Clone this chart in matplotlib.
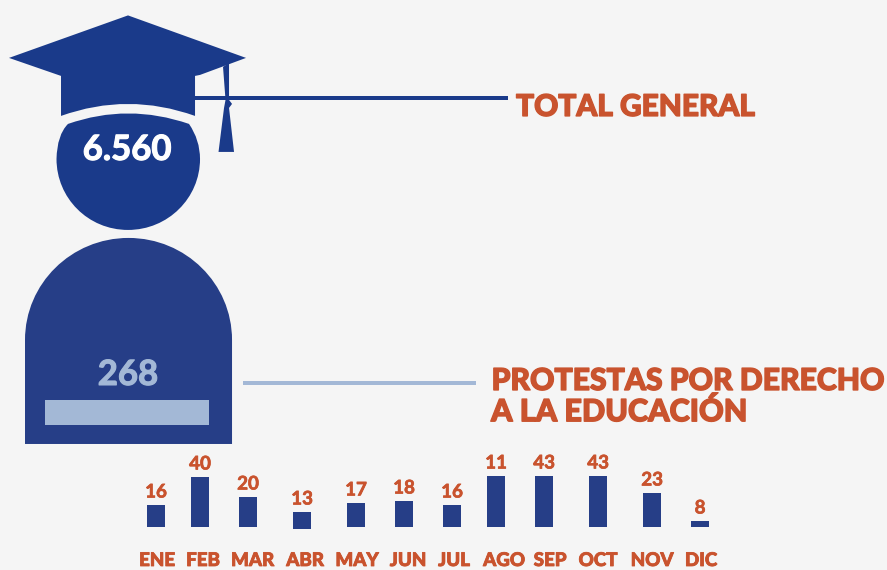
import numpy as np
import matplotlib
matplotlib.use('Agg')
import matplotlib.pyplot as plt
import matplotlib.patches as patches
import matplotlib.patheffects as pe
from matplotlib.path import Path

# chart values
months = ['ENE', 'FEB', 'MAR', 'ABR', 'MAY', 'JUN', 'JUL', 'AGO', 'SEP', 'OCT', 'NOV', 'DIC']
month_labels = ['16', '40', '20', '13', '17', '18', '16', '11', '43', '43', '23', '8']
# bar heights as drawn in the picture, they do not follow the labels exactly
bar_heights = [22, 50, 30, 17, 24, 26, 22, 51, 51, 51, 34, 6]
total_general = '6.560'
total_derecho = '268'

# pixel places of the bars and the labels
bar_x = [156, 200, 248, 302, 356, 404, 452, 496, 544, 598, 652, 700]
bar_base = [527, 527, 527, 529, 527, 527, 527, 527, 527, 527, 527, 527]
month_x = [157, 203, 252.5, 305, 357, 408, 454, 504, 550, 598, 652, 701]

bg = '#f5f5f5'
blue_head = '#1a3a8a'
blue_body = '#263e87'
light = '#a3b8d6'
orange = '#c9532e'

plt.rcParams['font.family'] = ['Lato', 'DejaVu Sans']

fig = plt.figure(figsize=(8.871, 5.701), dpi=100, facecolor=bg)
ax = fig.add_axes([0, 0, 1, 1])
ax.set_xlim(0, 887)
ax.set_ylim(570, 0)
ax.axis('off')

# hat
hat = [(Path.MOVETO, (128, 15.5)), (Path.LINETO, (246, 58)), (Path.LINETO, (200, 75)),
       (Path.LINETO, (195, 76)), (Path.LINETO, (195, 116)),
       (Path.CURVE3, (128, 92)), (Path.CURVE3, (61, 116)),
       (Path.LINETO, (61, 76)), (Path.LINETO, (9, 58)), (Path.CLOSEPOLY, (128, 15.5))]
codes, verts = zip(*hat)
ax.add_patch(patches.PathPatch(Path(verts, codes), fc=blue_head, ec='none'))

# tassel
tassel = [(223, 67), (229, 63), (229, 100), (232, 104), (229, 108), (234, 152), (218.5, 152), (224, 108), (225.5, 100)]
ax.add_patch(patches.Polygon(tassel, closed=True, fc=blue_head, ec='none'))

# head: circle cut by the arc below the hat
head = [(Path.MOVETO, (68, 124)), (Path.CURVE3, (128, 103)), (Path.CURVE3, (189, 124)),
        (Path.CURVE3, (200, 140)), (Path.CURVE3, (200, 159)),
        (Path.CURVE4, (200, 198)), (Path.CURVE4, (168, 230)), (Path.CURVE4, (128, 230)),
        (Path.CURVE4, (88, 230)), (Path.CURVE4, (56.5, 198)), (Path.CURVE4, (56.5, 159)),
        (Path.CURVE3, (57, 135)), (Path.CURVE3, (68, 124)), (Path.CLOSEPOLY, (68, 124))]
codes, verts = zip(*head)
ax.add_patch(patches.PathPatch(Path(verts, codes), fc=blue_head, ec='none'))

# body
k = 0.5523
rx, ry = 103.5, 102
cx, cy = 128.5, 340
body = [(Path.MOVETO, (cx - rx, 444)), (Path.LINETO, (cx - rx, cy)),
        (Path.CURVE4, (cx - rx, cy - k * ry)), (Path.CURVE4, (cx - k * rx, cy - ry)), (Path.CURVE4, (cx, cy - ry)),
        (Path.CURVE4, (cx + k * rx, cy - ry)), (Path.CURVE4, (cx + rx, cy - k * ry)), (Path.CURVE4, (cx + rx, cy)),
        (Path.LINETO, (cx + rx, 444)), (Path.CLOSEPOLY, (cx - rx, 444))]
codes, verts = zip(*body)
ax.add_patch(patches.PathPatch(Path(verts, codes), fc=blue_body, ec='none'))
ax.add_patch(patches.Rectangle((45, 400), 164, 25, fc=light, ec='none'))

# connector lines
ax.add_patch(patches.Rectangle((195, 96), 313, 4, fc=blue_head, ec='none'))
ax.add_patch(patches.Rectangle((243, 381), 233, 4, fc=light, ec='none'))


def heavy(color, w):
    # the original font is heavier than Lato Bold, thicken with a stroke
    return [pe.withStroke(linewidth=w, foreground=color)]


# headline numbers and titles
ax.text(127, 150, total_general, color='white', fontsize=25, fontweight='bold', ha='center', va='center',
        path_effects=heavy('white', 0.8))
ax.text(128, 375, total_derecho, color=light, fontsize=25, fontweight='bold', ha='center', va='center',
        path_effects=heavy(light, 0.8))
ax.text(516, 107, 'TOTAL GENERAL', color=orange, fontsize=21.5, fontweight='black', ha='left', va='center',
        path_effects=heavy(orange, 1.0))
ax.text(491.5, 381, 'PROTESTAS POR DERECHO', color=orange, fontsize=21.7, fontweight='black', ha='left', va='center',
        path_effects=heavy(orange, 1.0))
ax.text(491, 412, 'A LA EDUCACIÓN', color=orange, fontsize=22, fontweight='black', ha='left', va='center',
        path_effects=heavy(orange, 1.0))

# monthly bars
tops = np.array(bar_base) - np.array(bar_heights)
ax.bar(bar_x, bar_heights, bottom=tops, width=18, color=blue_body)
for x, t, lab in zip(bar_x, tops, month_labels):
    ax.text(x, t - 13, lab, color=orange, fontsize=13.5, fontweight='bold', ha='center', va='center',
            path_effects=heavy(orange, 0.5))
for x, m in zip(month_x, months):
    ax.text(x, 566, m, color=orange, fontsize=13.5, fontweight='black', ha='center', va='baseline',
            path_effects=heavy(orange, 0.6))

plt.savefig('out.png', dpi=100, facecolor=bg)
